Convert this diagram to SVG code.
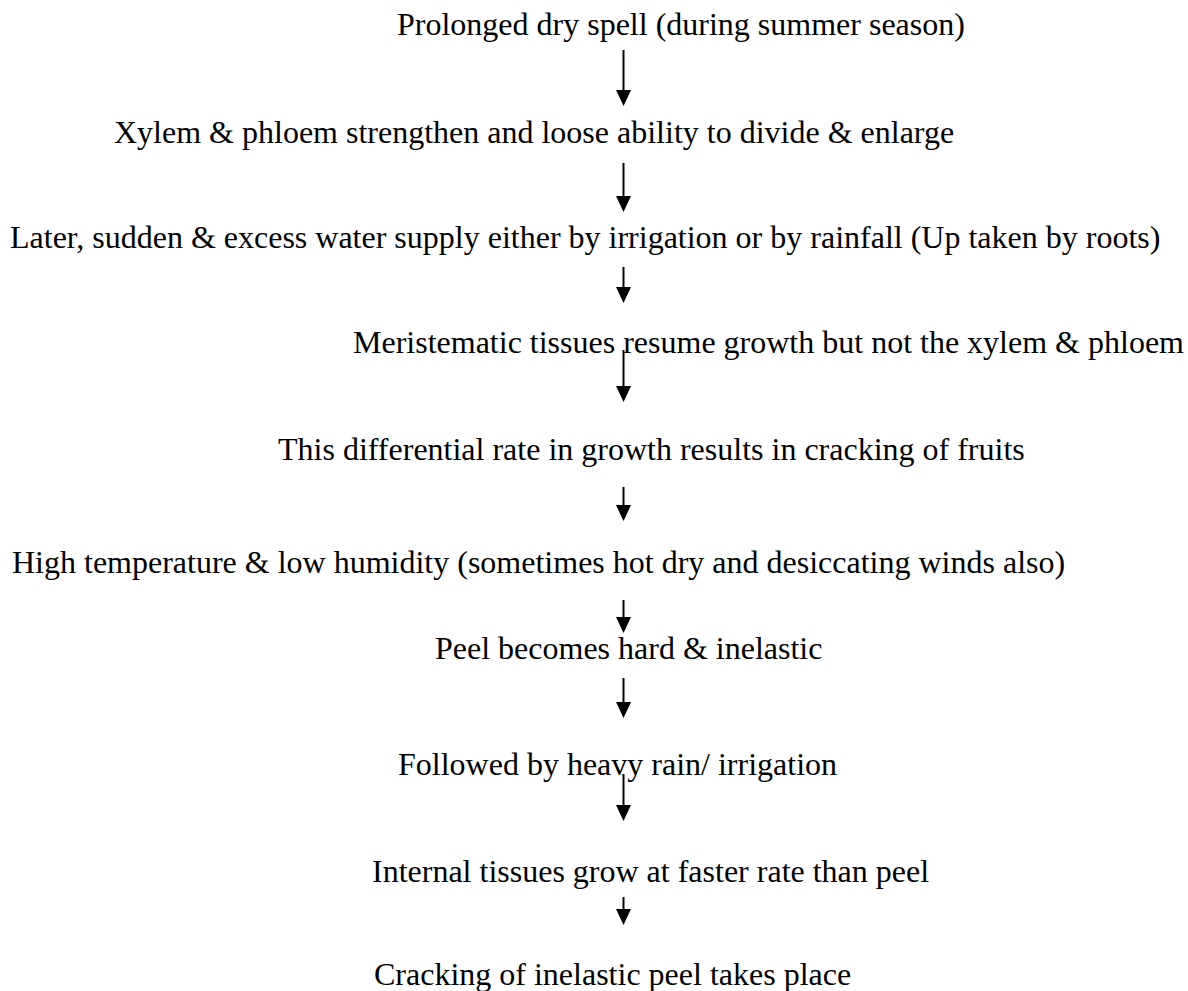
<svg xmlns="http://www.w3.org/2000/svg" width="1188" height="991" viewBox="0 0 1188 991">
<style>
text{font-family:"Liberation Serif","Times New Roman",serif;font-size:32px;fill:#000}
.c line{stroke:#000;stroke-width:2;marker-end:url(#ah)}
</style>
<defs>
<marker id="ah" markerUnits="userSpaceOnUse" markerWidth="16" markerHeight="16" refX="0" refY="7.5" orient="auto" viewBox="0 0 16 15">
<path d="M0,0 L16,7.5 L0,15 z" fill="#000"/>
</marker>
</defs>
<rect width="1188" height="991" fill="#fff"/>
<g id="n1"><text x="397" y="35">Prolonged dry spell (during summer season)</text></g>
<g id="n2"><text x="114" y="143">Xylem &amp; phloem strengthen and loose ability to divide &amp; enlarge</text></g>
<g id="n3"><text x="10" y="248">Later, sudden &amp; excess water supply either by irrigation or by rainfall (Up taken by roots)</text></g>
<g id="n4"><text x="353" y="353">Meristematic tissues resume growth but not the xylem &amp; phloem</text></g>
<g id="n5"><text x="278" y="460">This differential rate in growth results in cracking of fruits</text></g>
<g id="n6"><text x="12" y="573">High temperature &amp; low humidity (sometimes hot dry and desiccating winds also)</text></g>
<g id="n7"><text x="435" y="659">Peel becomes hard &amp; inelastic</text></g>
<g id="n8"><text x="398" y="775">Followed by heavy rain/ irrigation</text></g>
<g id="n9"><text x="372" y="882">Internal tissues grow at faster rate than peel</text></g>
<g id="n10"><text x="374" y="985">Cracking of inelastic peel takes place</text></g>
<g id="connectors" class="c">
<line x1="623.5" y1="50" x2="623.5" y2="90"/>
<line x1="623.5" y1="163" x2="623.5" y2="196"/>
<line x1="623.5" y1="267" x2="623.5" y2="287"/>
<line x1="623.5" y1="350" x2="623.5" y2="386"/>
<line x1="623.5" y1="487" x2="623.5" y2="505"/>
<line x1="623.5" y1="600" x2="623.5" y2="617"/>
<line x1="623.5" y1="678" x2="623.5" y2="702"/>
<line x1="623.5" y1="774" x2="623.5" y2="805"/>
<line x1="623.5" y1="897" x2="623.5" y2="909"/>
</g>
</svg>
